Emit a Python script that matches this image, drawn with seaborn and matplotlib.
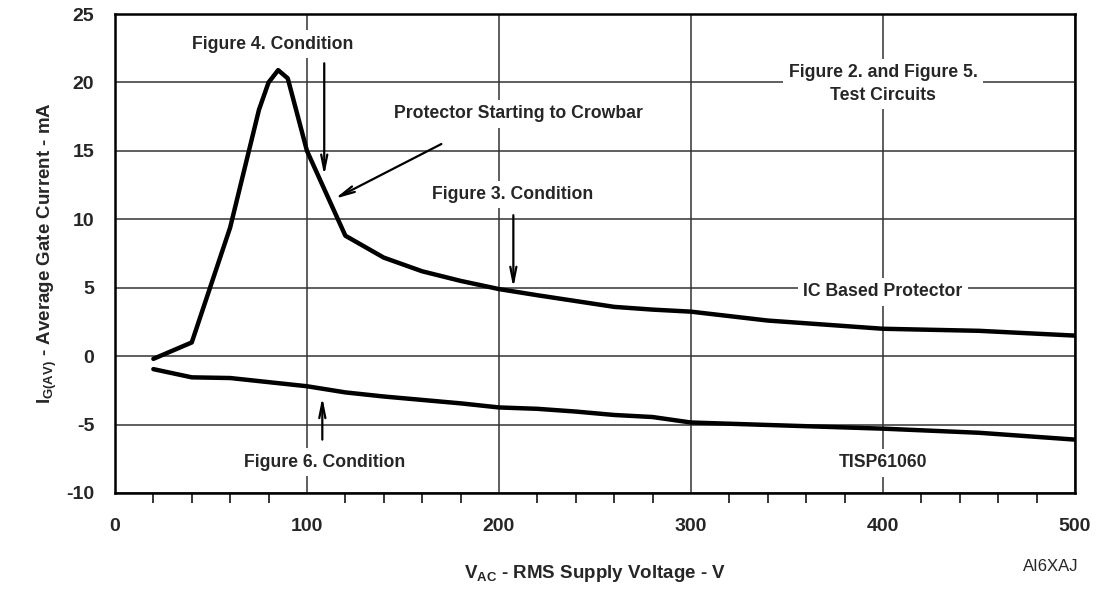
import matplotlib
matplotlib.use("Agg")
import matplotlib.pyplot as plt
import seaborn as sns
import pandas as pd

# Data
ic_x = [20, 40, 60, 75, 80, 85, 90, 100, 120, 140, 160, 180, 200, 220, 260, 280, 300, 340, 400, 450, 500]
ic_y = [-0.2, 1.0, 9.4, 18.0, 20.0, 20.9, 20.3, 15.0, 8.8, 7.2, 6.2, 5.5, 4.9, 4.45, 3.6, 3.4, 3.25, 2.6, 2.0, 1.85, 1.5]
tisp_x = [20, 40, 60, 80, 100, 120, 140, 160, 180, 200, 220, 240, 260, 280, 300, 400, 450, 500]
tisp_y = [-0.95, -1.55, -1.6, -1.9, -2.2, -2.65, -2.95, -3.2, -3.45, -3.75, -3.85, -4.05, -4.3, -4.45, -4.85, -5.3, -5.6, -6.1]
x_ticks = [0, 100, 200, 300, 400, 500]
y_ticks = [-10, -5, 0, 5, 10, 15, 20, 25]

sns.set_style("white")
plt.rcParams['font.family'] = ['Liberation Sans', 'DejaVu Sans']
plt.rcParams['axes.unicode_minus'] = False
plt.rcParams['mathtext.fontset'] = 'custom'
plt.rcParams['mathtext.rm'] = 'Liberation Sans:bold'
plt.rcParams['mathtext.bf'] = 'Liberation Sans:bold'
plt.rcParams['mathtext.it'] = 'Liberation Sans:bold'

fig = plt.figure(figsize=(10.98, 5.99), dpi=100)
ax = fig.add_axes([0.1047, 0.177, 0.8743, 0.7996])

df_ic = pd.DataFrame({"V": ic_x, "I": ic_y})
df_t = pd.DataFrame({"V": tisp_x, "I": tisp_y})
sns.lineplot(data=df_ic, x="V", y="I", ax=ax, color="black", lw=3.2, zorder=3)
sns.lineplot(data=df_t, x="V", y="I", ax=ax, color="black", lw=3.2, zorder=3)

ax.set_xlim(0, 500)
ax.set_ylim(-10, 25)
ax.set_xticks(x_ticks)
ax.set_xticks(range(0, 501, 20), minor=True)
ax.set_yticks(y_ticks)
ax.grid(True, which='major', color='#333333', lw=1.1, zorder=0)
ax.set_axisbelow(True)
for s in ax.spines.values():
    s.set_color('black')
    s.set_linewidth(1.8)
ax.tick_params(axis='both', which='major', direction='out', length=9, width=1.1,
               labelsize=14, color='black')
ax.tick_params(axis='x', which='minor', direction='out', length=7, width=1.1, color='black', bottom=True)
ax.tick_params(axis='x', which='major', pad=9)
ax.tick_params(axis='y', which='major', pad=6)
for lab in ax.get_xticklabels() + ax.get_yticklabels():
    lab.set_fontweight('bold')

ax.set_xlabel(r'$\mathbf{V_{AC}}$' + ' - RMS Supply Voltage - V', fontsize=13.5, fontweight='bold', labelpad=20)
ax.set_ylabel(r'$\mathbf{I_{G(AV)}}$' + ' - Average Gate Current - mA', fontsize=13.5, fontweight='bold', labelpad=5)

bbox = dict(boxstyle='square,pad=0.3', fc='white', ec='none')
tkw = dict(fontsize=12.7, fontweight='bold', ha='center', va='center', zorder=4, bbox=bbox)
ax.text(82, 22.8, 'Figure 4. Condition', **tkw)
ax.text(210, 17.7, 'Protector Starting to Crowbar', **tkw)
ax.text(207, 11.8, 'Figure 3. Condition', **tkw)
ax.text(109, -7.75, 'Figure 6. Condition', **tkw)
ax.text(400, 19.9, 'Figure 2. and Figure 5.\nTest Circuits', linespacing=1.45, **tkw)
ax.text(400, 4.7, 'IC Based Protector', **tkw)
ax.text(400, -7.8, 'TISP61060', **tkw)

akw = dict(arrowstyle='->,head_length=1.1,head_width=0.22', lw=1.6, color='black', shrinkA=0, shrinkB=0)
ax.annotate('', xy=(109, 13.2), xytext=(109, 21.4), arrowprops=akw, zorder=5)
ax.annotate('', xy=(114.5, 11.5), xytext=(170, 15.5), arrowprops=akw, zorder=5)
ax.annotate('', xy=(207.5, 5.0), xytext=(207.5, 10.3), arrowprops=akw, zorder=5)
ax.annotate('', xy=(108, -3.0), xytext=(108, -6.1), arrowprops=akw, zorder=5)

fig.text(0.9565, 0.055, 'AI6XAJ', fontsize=12, ha='center', va='center')

fig.savefig('out.png', dpi=100)
